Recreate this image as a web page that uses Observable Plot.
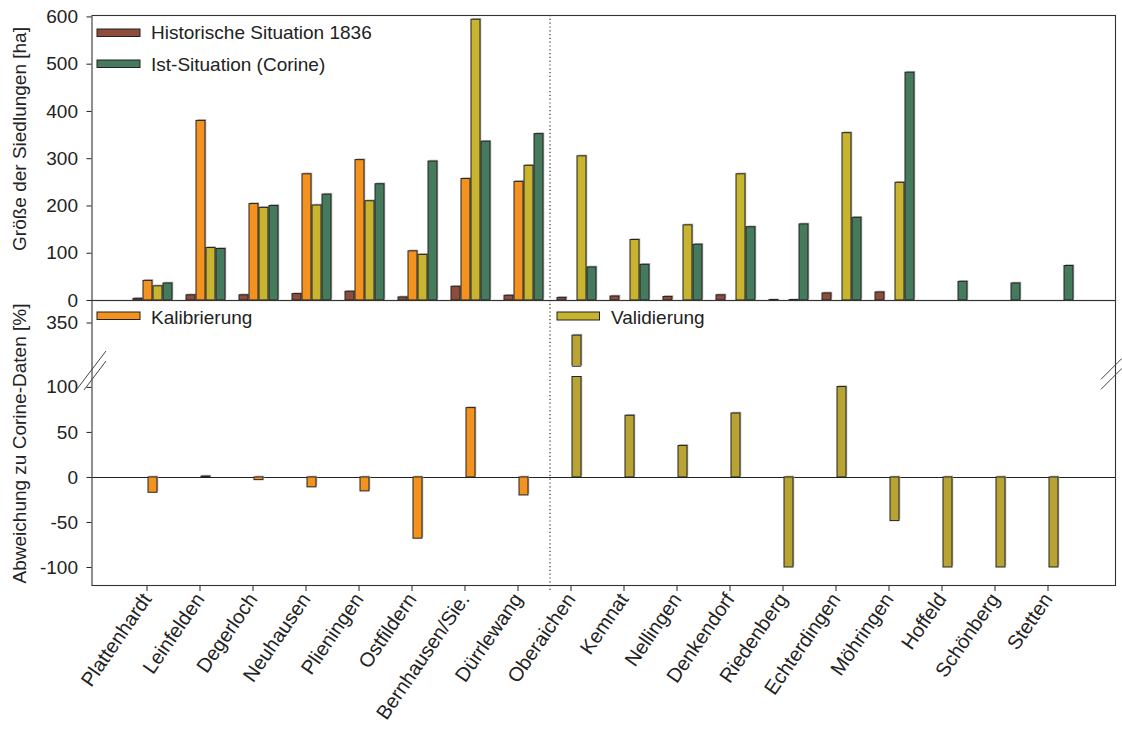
<!DOCTYPE html>
<html><head><meta charset="utf-8">
<script src="https://cdn.jsdelivr.net/npm/d3@7"></script>
<script src="https://cdn.jsdelivr.net/npm/@observablehq/plot@0.6"></script>
<style>
body{margin:0;background:#fff;}
#wrap{position:relative;width:1122px;height:734px;overflow:hidden;}
#wrap svg{position:absolute;left:0;}
</style></head><body><div id="wrap"></div>
<script>
// ---- data ----
const towns = ["Plattenhardt","Leinfelden","Degerloch","Neuhausen","Plieningen","Ostfildern","Bernhausen/Sie.","Dürrlewang","Oberaichen","Kemnat","Nellingen","Denkendorf","Riedenberg","Echterdingen","Möhringen","Hoffeld","Schönberg","Stetten"];
const historic1836 = [3.5, 11, 11, 13.5, 18.5, 6.5, 29, 10, 5.5, 8.5, 7.5, 11, 1, 15, 17, 0, 0, 0];
const calibration  = [41.5, 380, 204, 267, 297, 104, 257, 251, 0, 0, 0, 0, 0, 0, 0, 0, 0, 0];
const validation   = [30, 111, 196, 201, 210, 96.5, 594, 285, 305, 128, 159, 267, 1, 354, 249, 0, 0, 0];
const corine       = [36, 109, 200, 224, 246, 294, 336, 352, 70, 75.5, 118, 155, 161, 175, 482, 39.5, 36, 73];
const deviation    = [-17, 1, -3, -11, -15.5, -68, 77, -20, 336, 68.5, 35, 71, -100, 103, -48.5, -100, -100, -100];
const deviationSet = ["Kalibrierung","Kalibrierung","Kalibrierung","Kalibrierung","Kalibrierung","Kalibrierung","Kalibrierung","Kalibrierung","Validierung","Validierung","Validierung","Validierung","Validierung","Validierung","Validierung","Validierung","Validierung","Validierung"];
const topTicks = [0, 100, 200, 300, 400, 500, 600];
const bottomTicks = [-100, -50, 0, 50, 100, 350];
const topExtent = [0, 603];
const bottomExtent = [-120, 375];
const axisBreak = [100, 302];      // compressed part of the deviation axis
const barGap = [204, 302];         // white cut through the broken bar
const splitAfter = "Oberaichen";   // dotted separator between calibration and validation

// ---- styles ----
const FONT = "'Liberation Sans', Arial, Helvetica, sans-serif";
const colors = {
  "Historische Situation 1836": "#8d4c3c",
  "Kalibrierung": "#f3921f",
  "Validierung": "#c8b42e",
  "Ist-Situation (Corine)": "#457a5d"
};
const devColors = {"Kalibrierung": "#f3921f", "Validierung": "#b9a333"};
const series = [
  ["Historische Situation 1836", historic1836],
  ["Kalibrierung", calibration],
  ["Validierung", validation],
  ["Ist-Situation (Corine)", corine]
];
const xScale = {type: "band", domain: towns, range: [91.5, 1115], paddingInner: 0.258, paddingOuter: 0.624, align: 0.5};
const style = {fontFamily: FONT, fontSize: "19px", background: "transparent", overflow: "visible", color: "#222"};

// broken axis: values inside the break are squeezed into a short stretch
const squeeze = 23.5 / (axisBreak[1] - axisBreak[0]);
const breakTransform = (v) => v <= axisBreak[0] ? v
  : v >= axisBreak[1] ? axisBreak[0] + 23.5 + (v - axisBreak[1])
  : axisBreak[0] + (v - axisBreak[0]) * squeeze;
const bottomTickPos = bottomTicks.map(breakTransform);

// ---- top panel ----
const shadowMarks = [], topMarks = [];
series.forEach(([key, vals], k) => {
  const rows = towns.map((t, i) => ({town: t, value: vals[i], key})).filter(d => d.value > 0);
  shadowMarks.push(Plot.barY(rows, {x: "town", y: "value", fill: "#b8b8b8", dx: 1.3, dy: -1.3,
    insetLeft: 10 * k, insetRight: 30 - 10 * k}));
  topMarks.push(Plot.barY(rows, {x: "town", y: "value", fill: colors[key], stroke: "#222", strokeWidth: 1,
    insetLeft: 10 * k, insetRight: 30 - 10 * k}));
});
const topPlot = Plot.plot({
  width: 1122, height: 310, marginLeft: 91.5, marginRight: 7, marginTop: 15, marginBottom: 10,
  style,
  x: {...xScale, axis: null},
  y: {domain: topExtent},
  marks: [
    ...shadowMarks,
    ...topMarks,
    Plot.ruleX([splitAfter], {x: d => d, dx: -27, stroke: "#333", strokeWidth: 1.2, strokeDasharray: "1.2,2.6"}),
    Plot.axisY({ticks: topTicks, tickSize: 5, tickPadding: 9, label: null, fontSize: 19}),
    Plot.frame({stroke: "#333", strokeWidth: 1.1})
  ]
});
topPlot.style.top = "0px";

// ---- bottom panel ----
const devRows = towns.map((t, i) => ({town: t, value: deviation[i], set: deviationSet[i]}));
const bottomPlot = Plot.plot({
  width: 1122, height: 444, marginLeft: 91.5, marginRight: 7, marginTop: 10, marginBottom: 149,
  style,
  x: {...xScale},
  y: {transform: breakTransform},
  marks: [
    Plot.ruleY(bottomExtent, {strokeOpacity: 0}),
    Plot.ruleY([0], {stroke: "#222", strokeWidth: 1.1}),
    Plot.barY(devRows, {x: "town", y: "value", fill: "#b8b8b8", dx: 1.3, dy: -1.3, insetLeft: 15, insetRight: 15}),
    Plot.barY(devRows, {x: "town", y: "value", fill: d => devColors[d.set], stroke: "#222", strokeWidth: 1, insetLeft: 15, insetRight: 15}),
    Plot.barY([splitAfter], {x: d => d, y1: barGap[0], y2: barGap[1], fill: "white", insetLeft: 13, insetRight: 12}),
    Plot.tickY(barGap, {x: () => splitAfter, y: d => d, stroke: "#222", strokeWidth: 1, insetLeft: 15, insetRight: 15}),
    Plot.ruleX([splitAfter], {x: d => d, dx: -27, stroke: "#333", strokeWidth: 1.2, strokeDasharray: "1.2,2.6", insetBottom: -6}),
    Plot.axisY({ticks: bottomTickPos, tickFormat: (d) => String(bottomTicks[bottomTickPos.indexOf(d)]), tickSize: 5, tickPadding: 9, label: null, fontSize: 19}),
    Plot.axisX({tickRotate: -55.5, tickSize: 6, tickPadding: 4, label: null, fontSize: 20, dx: -6}),
    Plot.frame({stroke: "#333", strokeWidth: 1.1})
  ]
});
bottomPlot.style.top = "290px";

const wrap = document.getElementById("wrap");
wrap.appendChild(topPlot);
wrap.appendChild(bottomPlot);

// ---- legends, axis titles, break marks ----
function legend(svg, x, y, w, h, fill, label, tx, ty) {
  const s = d3.select(svg);
  s.append("rect").attr("x", x).attr("y", y).attr("width", w).attr("height", h)
    .attr("fill", fill).attr("stroke", "#222").attr("stroke-width", 1);
  s.append("text").attr("x", tx).attr("y", ty).attr("text-anchor", "start")
    .attr("font-family", FONT).attr("font-size", 19).attr("fill", "#222").text(label);
}
legend(topPlot, 97, 29, 43, 7.5, colors["Historische Situation 1836"], "Historische Situation 1836", 151, 39.3);
legend(topPlot, 97, 60, 43, 7.5, colors["Ist-Situation (Corine)"], "Ist-Situation (Corine)", 151, 70.7);
legend(bottomPlot, 97, 22, 43, 7.5, devColors["Kalibrierung"], "Kalibrierung", 151, 33.5);
legend(bottomPlot, 557, 22, 42.5, 8, colors["Validierung"], "Validierung", 611, 34);

function ylabel(svg, cy, label) {
  d3.select(svg).append("text").attr("transform", `translate(25.5,${cy}) rotate(-90)`)
    .attr("text-anchor", "middle").attr("font-family", FONT).attr("font-size", 19)
    .attr("fill", "#222").text(label);
}
ylabel(topPlot, 139, "Größe der Siedlungen [ha]");
ylabel(bottomPlot, 153.5, "Abweichung zu Corine-Daten [%]");

const bs = d3.select(bottomPlot);
[[77, 99, 106, 61], [84, 100, 106, 71], [1101, 89.3, 1122, 68.3], [1101, 99.3, 1122, 78.3]].forEach(([x1, y1, x2, y2]) => {
  bs.append("line").attr("x1", x1).attr("y1", y1).attr("x2", x2).attr("y2", y2)
    .attr("stroke", "#444").attr("stroke-width", 1);
});
</script></body></html>
